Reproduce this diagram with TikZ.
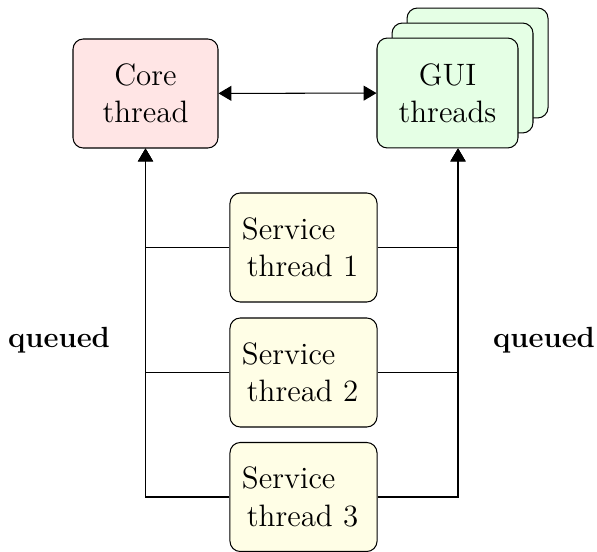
\documentclass[tikz,border=0pt]{standalone}
\usetikzlibrary{arrows.meta,calc}
\begin{document}
\begin{tikzpicture}[x=0.3876pt,y=-0.3876pt,
  box/.style={draw,rounded corners=4pt,line width=0.4pt,inner sep=0pt,
    font=\fontsize{12}{14.5}\selectfont},
  corebox/.style={box,fill=red!10,minimum width=56.2pt,minimum height=42.25pt,align=center},
  guibox/.style={box,fill=green!10,minimum width=54.65pt,minimum height=42.6pt,align=center},
  servbox/.style={box,fill=yellow!10,minimum width=57pt,minimum height=42.25pt,
    text width=47.7pt,align=left},
  conn/.style={line width=0.4pt},
  tip/.style={-{Triangle[length=5pt,width=5.8pt]}},
  qlabel/.style={font=\fontsize{11.3}{13}\selectfont\bfseries,anchor=base,inner sep=0pt}]
\useasboundingbox (0,0) rectangle (597,551);
% GUI copies
\node[guibox] (gui3) at (477.5,63) {};
\node[guibox] (gui2) at (462.5,78) {};
\node[guibox] (gui) at (447.5,93) {GUI\\threads};
\node[corebox] (core) at (145.5,93.5) {Core\\thread};
\coordinate (gq) at ($(gui.south)+(10.5,0)$);
\node[servbox] (s1) at (303.5,247.5) {Service\\\hspace*{1.9pt}thread 1};
\node[servbox] (s2) at (303.5,372.5) {Service\\\hspace*{1.9pt}thread 2};
\node[servbox] (s3) at (303.5,497) {Service\\\hspace*{1.9pt}thread 3};
\draw[conn,{Triangle[length=5pt,width=5.8pt]}-{Triangle[length=5pt,width=5.8pt]}] (core) -- (gui);
\draw[conn,tip] (s1.west) -| (core.south);
\draw[conn,tip] (s2.west) -| (core.south);
\draw[conn,tip] (s3.west) -| (core.south);
\draw[conn,tip] (s1.east) -| (gq);
\draw[conn,tip] (s2.east) -| (gq);
\draw[conn,tip] (s3.east) -| (gq);
\node[qlabel] (ql) at (59,347) {queued};
\node[qlabel] (qr) at (544,347) {queued};
\end{tikzpicture}
\end{document}
